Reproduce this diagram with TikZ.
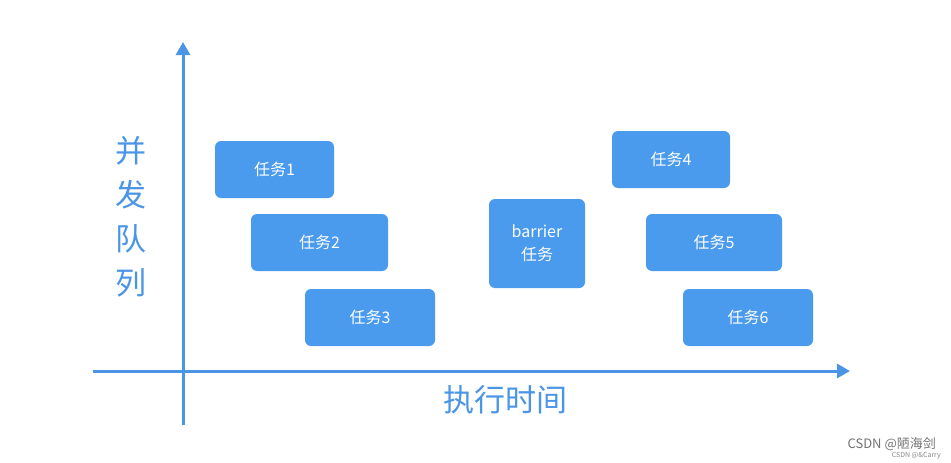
\documentclass[tikz,border=0pt]{standalone}
\usepackage{fontspec}
\setmainfont{Noto Sans CJK SC}
\usetikzlibrary{arrows.meta}
\definecolor{boxblue}{HTML}{4A9BEE}
\definecolor{axisblue}{HTML}{4A95E6}
\tikzset{
  taskbox/.style={fill=boxblue, rounded corners=6pt, text=white, font=\fontsize{16}{23}\selectfont, align=center, inner sep=0pt},
  axisline/.style={draw=axisblue, line width=3pt, -{Triangle[length=13pt,width=14pt]}},
  axislabel/.style={text=axisblue, font=\fontsize{31}{38}\selectfont, inner sep=0pt}
}
\begin{document}
\begin{tikzpicture}[x=1pt,y=-1pt]
\useasboundingbox (0,0) rectangle (951,463);
\fill[white] (0,0) rectangle (951,463);
% axes
\coordinate (ybot) at (183,425);
\coordinate (ytop) at (183,42);
\coordinate (xleft) at (93,371);
\coordinate (xright) at (850,371);
\draw[axisline] (ybot) -- (ytop);
\draw[axisline] (xleft) -- (xright);
% labels
\node[axislabel, align=center] (ylab) at (131,217) {并\\[6pt]发\\[6pt]队\\[6pt]列};
\node[axislabel] (xlab) at (505,400) {执行时间};
% tasks
\node[taskbox, minimum width=119pt, minimum height=57pt] (t1) at (274.5,169.5) {任务1};
\node[taskbox, minimum width=137pt, minimum height=57pt] (t2) at (319.5,242.5) {任务2};
\node[taskbox, minimum width=130pt, minimum height=57pt] (t3) at (370,317.5) {任务3};
\node[taskbox, minimum width=96pt, minimum height=89pt] (tb) at (537,243.5) {barrier\\任务};
\node[taskbox, minimum width=118pt, minimum height=57pt] (t4) at (671,159.5) {任务4};
\node[taskbox, minimum width=136pt, minimum height=57pt] (t5) at (714,242.5) {任务5};
\node[taskbox, minimum width=130pt, minimum height=57pt] (t6) at (748,317.5) {任务6};
% watermark
\node[text=black!55, font=\fontsize{13}{15}\selectfont, anchor=east, inner sep=0pt] (wm) at (936,444) {CSDN @陋海剑};
\node[text=black!45, font=\fontsize{7}{8}\selectfont, anchor=east, inner sep=0pt] (wm2) at (941,456) {CSDN @\&Carry};
\end{tikzpicture}
\end{document}
